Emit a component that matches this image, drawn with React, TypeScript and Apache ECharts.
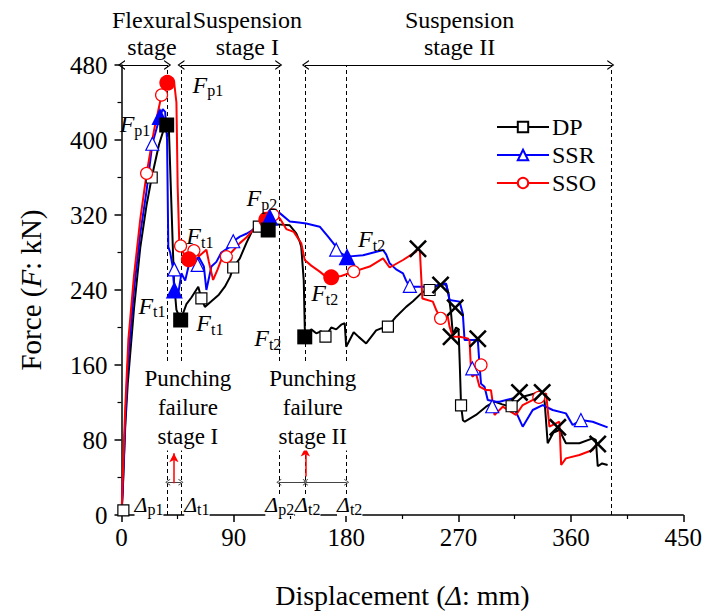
import React, { useEffect, useRef } from 'react';
import * as echarts from 'echarts';

const FONT = 'Liberation Serif';

// x ticks / y ticks
const xTicks = { min: 0, max: 450, interval: 90 };
const yTicks = { min: 0, max: 480, interval: 80 };

// Force-displacement curves [displacement mm, force kN]
const dpCurve = [[0,0],[1,25],[3,95],[5,140],[10,220],[15,285],[20,330],[24.2,360],[30,395],[34,412],[36.2,416],[38,410],[40,330],[42,250],[44,218.7],[47.4,208],[52,225],[56,232],[61.5,243.5],[64,231],[66.8,222],[72,228],[78,235],[82.8,243.5],[87,254],[89.5,264],[94.8,273.8],[100,290],[105,304],[110,307.5],[116,309],[125,310],[134.8,309],[140,300.5],[142.8,291.6],[144,286],[146,250],[146.8,200],[147.3,190],[152,198],[156,193.8],[160,196],[163.4,190.2],[168,200],[172,198],[176,203],[178.8,204.5],[180,179.5],[186,195],[190,190],[196,183],[204,197],[208,199],[213.4,200.9],[220,211.5],[228,222],[233.5,228],[241.4,238],[246.8,240],[253,245],[260,246],[262,236],[264,215],[265.5,192],[268,200],[270,198],[271,160],[272,117],[273.5,101],[275,99.5],[284,106.7],[292,115.5],[298.8,120.9],[305,118],[312,115.5],[321.4,126.2],[332,129.8],[337.6,129.8],[339,120],[341.4,76.5],[346,88],[350.8,90.7],[356,76.5],[366.8,76.5],[377.4,81.8],[380,80],[381.5,52],[385,55],[389.4,53.3]];
const ssrCurve = [[0,0],[1,28],[3,100],[5,160],[10,240],[15,300],[20,345],[24.7,396],[30.8,425],[33,433],[35,430],[36.5,400],[37.5,286],[39,280],[41,265],[42.3,240],[44,232],[45.5,236.5],[48,257.8],[51,250],[54,267],[58.8,272],[62,275],[66,265],[68,240],[72,265],[76,270],[80,280],[86.8,286],[89.5,292],[94.8,297],[100,300],[105,304],[112,312],[118.8,318],[122,322],[126.8,322],[134.8,313],[142,312],[148,311],[158.8,307.5],[165.5,297],[172,286],[176,279],[180.7,275.6],[193.5,277],[209.5,282.7],[212,278],[214.8,268.5],[220,262],[225.5,257.8],[228,250],[230.8,243.5],[240,243.5],[249.4,243.5],[256,246],[260,247],[262.8,229.3],[270.8,227.6],[273.4,215],[274.8,186.7],[281.4,186.7],[285.4,187],[286.8,160],[288,140],[290.8,136.9],[293.4,122.7],[300,120.9],[302.8,120.9],[313.4,124.4],[316,110],[321.4,94.2],[329.4,112],[337.4,117.3],[345.4,112],[356,108.4],[361.4,96],[368,101.3],[377.4,99.5],[389.4,93.5]];
const ssoCurve = [[0,0],[1,40],[3,115],[5.5,187],[10,255],[15,315],[20.1,364],[26,410],[32.1,448],[34,458],[36.7,461],[40,462],[42.3,460],[44,440],[45,350],[46.3,290],[47.3,287],[50,278],[54,272.7],[58,282],[62,276],[68,283],[70,270],[73.4,250.7],[77,262],[81,276],[84,275.6],[88,280],[94.8,290],[100,296],[108,308],[116,315],[121,320],[127,316],[132,305],[138,302],[144,289.8],[146.8,272],[152,266],[158.8,259.6],[164,254],[168,253.5],[176,255],[186,259.6],[198.8,265],[209.5,273.8],[214.8,264],[225.5,272],[236,281],[237.5,284],[239,282],[241,231],[249.4,227.6],[252,219],[255.6,209.8],[261.4,211.5],[262.8,200.9],[265.4,190.2],[270.8,190.2],[277.4,188.4],[278.8,186],[280,154.7],[281,147.6],[284,151],[286.8,136.9],[292,133.3],[296,133],[298.8,106.7],[305.4,115.5],[316,106.7],[321.4,117.3],[332,124.4],[340.1,129.8],[342.8,94.2],[350.8,99.5],[352.2,53.3],[356,60.4],[366.8,64],[377.4,69.3],[380,74.7]];

// hollow markers along the curves
const dpOpen = [[1.5,5],[24.2,360],[64,231],[89.5,264],[110,307.5],[163.4,190.2],[213.4,200.9],[246.8,240],[272,117],[312.5,116]];
const ssrOpen = [[24.7,396],[42.3,262],[61,266.7],[89.5,292],[172,283],[231,244.5],[281,156.5],[297,116],[368,101.3]];
const ssoOpen = [[20.1,364.4],[32.1,448],[47.3,287],[58,282],[84,275.6],[121.4,320],[186,259.6],[255.6,209.8],[288,160],[334.3,125.5]];

// key points Fp1, Ft1, Fp2, Ft2
const dpKey = [[36.2,416],[47.4,208],[117.5,304],[146.8,190]];
const ssrKey = [[30.8,425],[42.3,240],[118.8,318],[180.7,275.6]];
const ssoKey = [[36.7,461],[54,272.7],[116,315],[168,253.5]];

// fracture points (x)
const failurePts = [[237.5,284],[255.6,245.3],[267.3,221],[264,190.2],[285.4,188],[318.8,130.8],[337,130.8],[349.5,93.5],[381.5,75.7]];

// stage boundaries (displacement)
const stageBounds = [37, 47.6, 126, 147.3, 180.4, 392];
const topSpans = [[0, 37], [47.6, 126], [147.3, 392]];
const bottomSpans = [[37, 47.6], [126, 147.3], [147.3, 180.4]];
const redArrows = [[42, 34, 66], [147.3, 41, 72]];

// annotation texts: [x, y, text, kind]
const annotations: [number, number, string, string][] = [
  [24.4, 513.6, 'Flexural\nstage', 'stage'],
  [100.8, 513.6, 'Suspension\nstage I', 'stage'],
  [270.8, 513.6, 'Suspension\nstage II', 'stage'],
  [10.8, 417, '{i|F}{s|p1}', 'f'],
  [69.2, 458.7, '{i|F}{s|p1}', 'f'],
  [62.8, 297.6, '{i|F}{s|t1}', 'f'],
  [24.4, 223, '{i|F}{s|t1}', 'f'],
  [70.8, 204.8, '{i|F}{s|t1}', 'f'],
  [112.4, 338, '{i|F}{s|p2}', 'f'],
  [200.4, 294.4, '{i|F}{s|t2}', 'f'],
  [162.8, 236.8, '{i|F}{s|t2}', 'f'],
  [117.2, 188.8, '{i|F}{s|t2}', 'f'],
  [53.2, 115.2, 'Punching\nfailure\nstage I', 'punch'],
  [153.2, 115.2, 'Punching\nfailure\nstage II', 'punch'],
  [22, 10.7, '{d|Δ}{s|p1}', 'delta'],
  [60.4, 10.7, '{d|Δ}{s|t1}', 'delta'],
  [126.8, 10.7, '{d|Δ}{s|p2}', 'delta'],
  [149.2, 10.7, '{d|Δ}{s|t2}', 'delta'],
  [182.8, 10.7, '{d|Δ}{s|t2}', 'delta'],
];

const CHEVRON = 'path://M0,10 L5,0 L10,10 L8.6,10 L5,2.6 L1.4,10 Z';
const XMARK = 'path://M2,0 L10,8 L18,0 L20,2 L12,10 L20,18 L18,20 L10,12 L2,20 L0,18 L8,10 L0,2 Z';

const rich = {
  i: { fontFamily: FONT, fontSize: 24, fontStyle: 'italic', color: '#000' },
  d: { fontFamily: FONT, fontSize: 22, fontStyle: 'italic', color: '#000' },
  s: { fontFamily: FONT, fontSize: 16, color: '#000', verticalAlign: 'bottom', padding: [0, 0, -2, 0] },
};

const labelStyles: Record<string, any> = {
  stage: { fontFamily: FONT, fontSize: 24, lineHeight: 27, color: '#000', align: 'center' },
  f: { fontFamily: FONT, fontSize: 24, color: '#000', rich },
  punch: { fontFamily: FONT, fontSize: 23, lineHeight: 29, color: '#000', align: 'center', backgroundColor: '#fff' },
  delta: { fontFamily: FONT, fontSize: 22, color: '#000', rich, backgroundColor: '#fff' },
};

function buildOption() {
  const axisCommon = {
    type: 'value',
    axisLine: { show: true, onZero: false, lineStyle: { color: '#000', width: 1.5 } },
    axisTick: { show: true, inside: false, length: 7, lineStyle: { color: '#000', width: 1.5 } },
    minorTick: { show: true, splitNumber: 2, length: 4, lineStyle: { color: '#000', width: 1.2 } },
    splitLine: { show: false },
  };
  const dashed = { type: [4, 3], color: '#000', width: 1 };
  const markLineData: any[] = [];
  stageBounds.forEach((x) => {
    markLineData.push([{ coord: [x, 0], symbol: 'none', lineStyle: dashed }, { coord: [x, 480], symbol: 'none' }]);
  });
  topSpans.forEach(([a, b]) => {
    markLineData.push([
      { coord: [a, 480], symbol: CHEVRON, symbolSize: [10, 7], lineStyle: { type: 'solid', color: '#000', width: 1.2 } },
      { coord: [b, 480], symbol: CHEVRON, symbolSize: [10, 7] },
    ]);
  });
  bottomSpans.forEach(([a, b]) => {
    markLineData.push([
      { coord: [a, 35], symbol: CHEVRON, symbolSize: [7, 5], lineStyle: { type: 'solid', color: '#444', width: 1 } },
      { coord: [b, 35], symbol: CHEVRON, symbolSize: [7, 5] },
    ]);
  });
  redArrows.forEach(([x, y0, y1]) => {
    markLineData.push([
      { coord: [x, y0], symbol: 'none', lineStyle: { type: 'solid', color: '#ff0000', width: 1.5 } },
      { coord: [x, y1], symbol: 'arrow', symbolSize: [7, 9] },
    ]);
  });

  const lineSeries = (name: string, data: number[][], color: string, symbol: string, z: number) => ({
    name,
    type: 'line',
    data,
    symbol,
    symbolSize: 11,
    showSymbol: false,
    lineStyle: { color, width: 2 },
    itemStyle: { color, borderColor: color, borderWidth: 1.2 },
    z,
    silent: true,
  });
  const openSeries = (name: string, data: number[][], color: string, symbol: string, size: number) => ({
    name,
    type: 'scatter',
    data,
    symbol,
    symbolSize: size,
    itemStyle: { color: '#fff', borderColor: color, borderWidth: 1.2, opacity: 1 },
    z: 5,
    silent: true,
  });
  const keySeries = (name: string, data: number[][], color: string, symbol: string, size: number, z: number) => ({
    name,
    type: 'scatter',
    data,
    symbol,
    symbolSize: size,
    itemStyle: { color, opacity: 1 },
    z,
    silent: true,
  });

  return {
    animation: false,
    backgroundColor: '#fff',
    grid: { left: 121.5, right: 21, top: 65, bottom: 100, containLabel: false },
    legend: {
      data: ['DP', 'SSR', 'SSO'],
      orient: 'vertical',
      left: 491,
      top: 110,
      itemWidth: 52,
      itemHeight: 13,
      itemGap: 4,
      selectedMode: false,
      textStyle: { fontFamily: FONT, fontSize: 24, color: '#000', padding: [0, 0, 0, -2] },
    },
    xAxis: {
      ...axisCommon,
      min: xTicks.min,
      max: xTicks.max,
      interval: xTicks.interval,
      axisLabel: { fontFamily: FONT, fontSize: 25, color: '#000', margin: 10 },
      name: 'Displacement ({i|Δ}: mm)',
      nameLocation: 'middle',
      nameGap: 66,
      nameTextStyle: {
        fontFamily: FONT,
        fontSize: 28,
        color: '#000',
        rich: { i: { fontFamily: FONT, fontSize: 28, fontStyle: 'italic', color: '#000' } },
      },
    },
    yAxis: {
      ...axisCommon,
      min: yTicks.min,
      max: yTicks.max,
      interval: yTicks.interval,
      axisLabel: { fontFamily: FONT, fontSize: 25, color: '#000', margin: 14 },
      name: 'Force ({i|F}: kN)',
      nameLocation: 'middle',
      nameGap: 76,
      nameTextStyle: {
        fontFamily: FONT,
        fontSize: 29,
        color: '#000',
        rich: { i: { fontFamily: FONT, fontSize: 29, fontStyle: 'italic', color: '#000' } },
      },
    },
    series: [
      {
        name: 'guides',
        type: 'scatter',
        data: [],
        silent: true,
        z: 1,
        markLine: {
          silent: true,
          animation: false,
          z: 1,
          symbol: ['none', 'none'],
          label: { show: false },
          data: markLineData,
        },
      },
      {
        name: 'annotations',
        type: 'scatter',
        symbolSize: 0,
        clip: false,
        silent: true,
        z: 8,
        itemStyle: { opacity: 1 },
        data: annotations.map(([x, y, text, kind]) => ({
          value: [x, y],
          label: { show: true, position: 'inside', formatter: text, ...labelStyles[kind] },
        })),
      },
      lineSeries('DP', dpCurve, '#000000', 'emptyRect', 2),
      lineSeries('SSR', ssrCurve, '#0000ff', 'emptyTriangle', 3),
      lineSeries('SSO', ssoCurve, '#ff0000', 'emptyCircle', 4),
      openSeries('DP open', dpOpen, '#000000', 'rect', 11),
      openSeries('SSR open', ssrOpen, '#0000ff', 'triangle', 13),
      openSeries('SSO open', ssoOpen, '#ff0000', 'circle', 12),
      keySeries('SSO key', ssoKey, '#ff0000', 'circle', 16, 6),
      keySeries('SSR key', ssrKey, '#0000ff', 'triangle', 17, 6),
      keySeries('DP key', dpKey, '#000000', 'rect', 15, 6),
      keySeries('Failure', failurePts, '#000000', XMARK, 18, 7),
    ],
  };
}

export default function App() {
  const ref = useRef<HTMLDivElement>(null);
  useEffect(() => {
    if (!ref.current) return;
    const chart = echarts.init(ref.current, null, { renderer: 'svg' });
    chart.setOption(buildOption() as any);
    return () => chart.dispose();
  }, []);
  return (
    <div
      ref={ref}
      style={{ position: 'absolute', left: 0, top: 0, width: 705, height: 615, background: '#fff' }}
    />
  );
}
